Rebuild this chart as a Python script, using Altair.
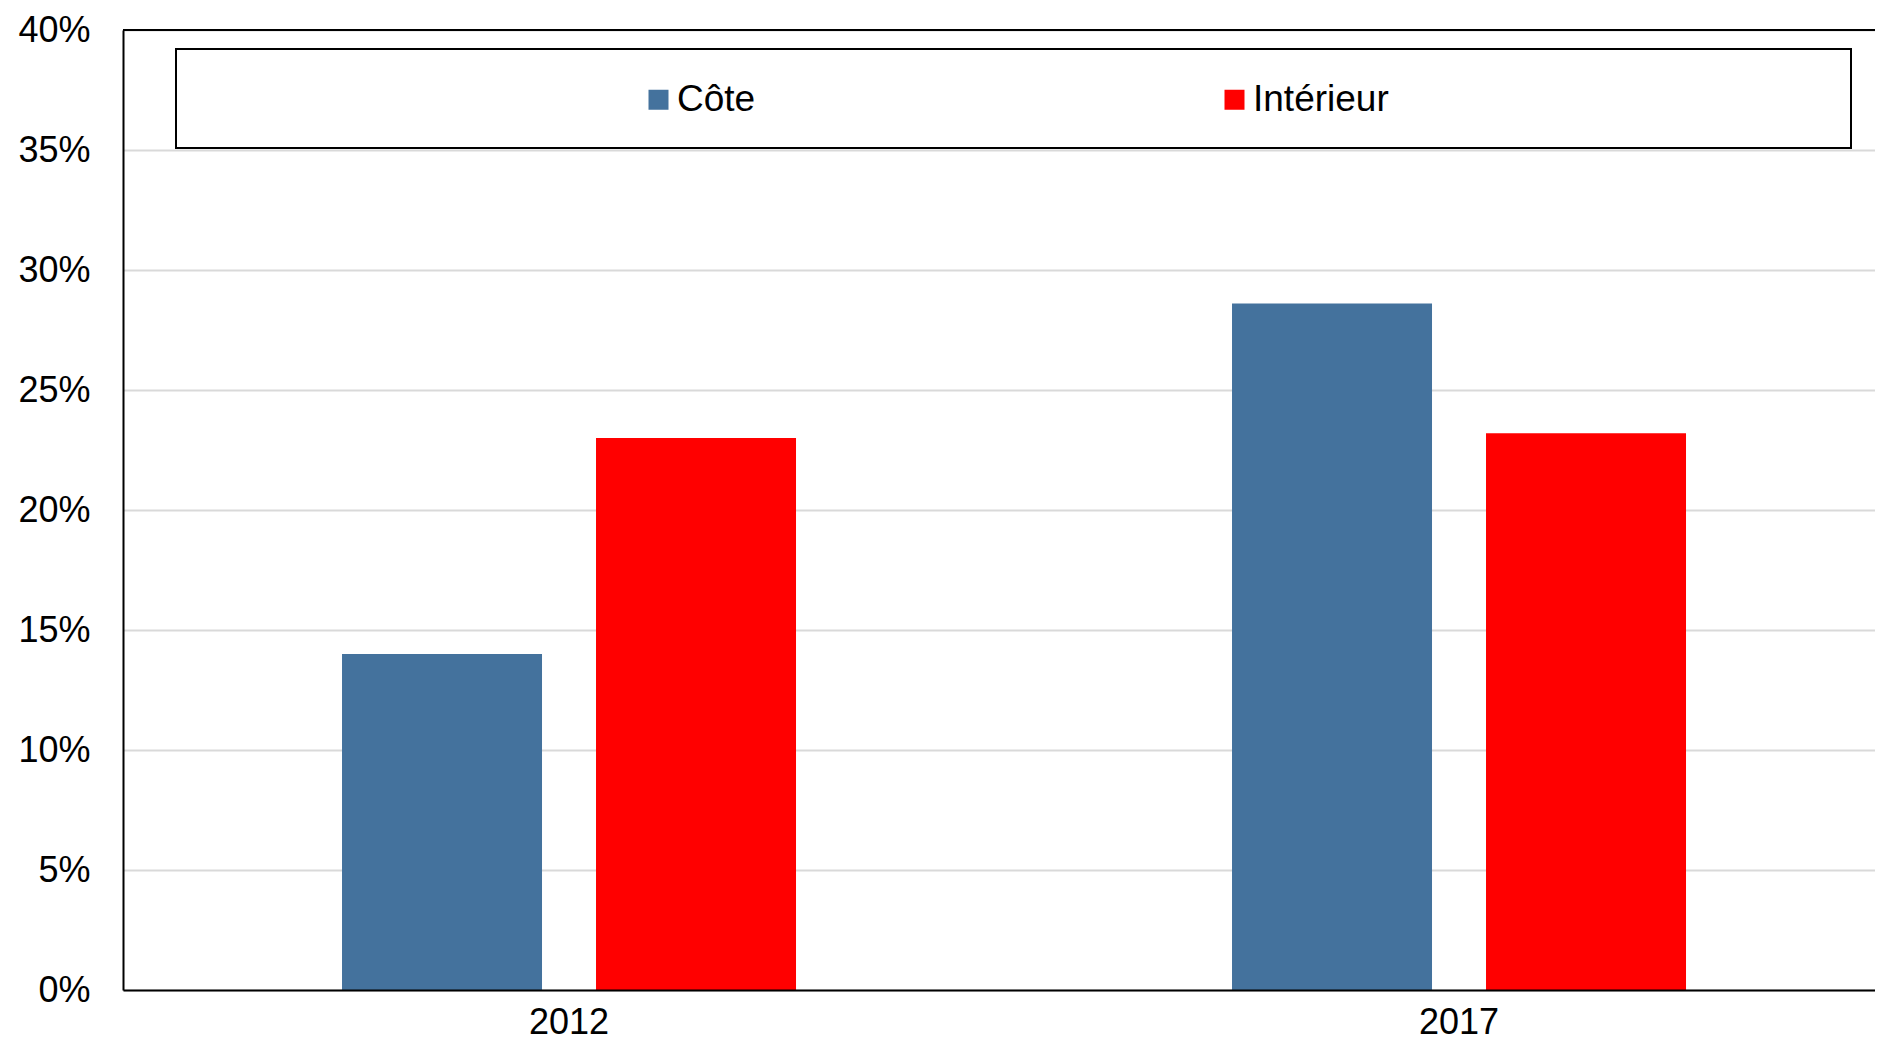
import altair as alt
import pandas as pd

years = ["2012", "2017"]
series = ["Côte", "Intérieur"]
cote = [0.140, 0.286]
interieur = [0.230, 0.232]
colors = ["#44729D", "#FF0000"]
y_ticks = [0.0, 0.05, 0.10, 0.15, 0.20, 0.25, 0.30, 0.35, 0.40]

rows = []
for i, yr in enumerate(years):
    rows.append({"year": yr, "series": series[0], "value": cote[i]})
    rows.append({"year": yr, "series": series[1], "value": interieur[i]})
df = pd.DataFrame(rows)

FONT = "Liberation Sans"
W, H = 1752, 960

bars = alt.Chart(df).mark_bar(size=200).encode(
    x=alt.X("year:N", sort=years,
            scale=alt.Scale(paddingInner=0.48989, paddingOuter=0.229215, align=0.5368),
            axis=alt.Axis(title=None, labelAngle=0, labelFontSize=36, labelFont=FONT,
                          labelColor="black", ticks=False, labelPadding=15,
                          domainColor="black", domainWidth=2, grid=False, zindex=1)),
    xOffset=alt.XOffset("series:N", sort=series,
                        scale=alt.Scale(paddingInner=0.2126, paddingOuter=0)),
    y=alt.Y("value:Q", scale=alt.Scale(domain=[0, 0.4], nice=False),
            axis=alt.Axis(title=None, values=y_ticks, format=".0%", labelFontSize=36,
                          labelFont=FONT, labelColor="black", ticks=False, labelPadding=33,
                          domainColor="black", domainWidth=2, gridColor="#d9d9d9",
                          gridWidth=2, zindex=0)),
    color=alt.Color("series:N", sort=series,
                    scale=alt.Scale(domain=series, range=colors),
                    legend=alt.Legend(title=None, orient="none", legendX=517, legendY=51,
                                      direction="horizontal", columns=2, columnPadding=460,
                                      symbolType="square", symbolSize=400, symbolStrokeWidth=0,
                                      labelFontSize=37, labelFont=FONT, labelColor="black",
                                      labelOffset=0, padding=0)),
)

box_df = pd.DataFrame({"k": [0]})
box = alt.Chart(box_df).mark_rect(fill="white", stroke="black", strokeWidth=2).encode(
    x=alt.value(53), x2=alt.value(1728), y=alt.value(19), y2=alt.value(118)
)
top_line = alt.Chart(box_df).mark_rule(color="black", strokeWidth=2).encode(
    x=alt.value(0), x2=alt.value(W), y=alt.value(0)
)

chart = alt.layer(box, top_line, bars).properties(
    width=W, height=H,
    autosize=alt.AutoSizeParams(type="none"),
    padding={"left": 115, "top": 22, "right": 0, "bottom": 51},
).configure_view(stroke=None).configure(background="white")

chart.save("out.html", embed_options={"renderer": "svg", "actions": False})
